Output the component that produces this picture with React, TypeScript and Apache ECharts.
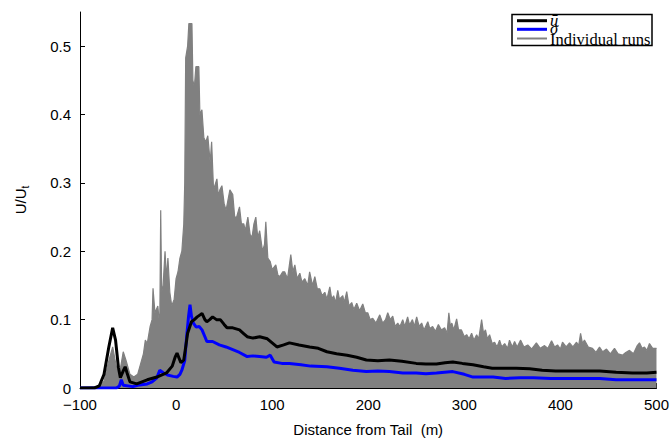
import React, { useEffect, useRef } from 'react';
import * as echarts from 'echarts';

// Mean (u-bar) curve: distance (m) and U/Ut
const meanX = [-100, -85, -80, -75, -70, -66, -63, -60, -58, -55, -53, -51, -48, -41, -30, -20, -10, -4, -1, 1, 5, 8, 10, 12, 16, 19, 22, 25, 27, 30, 32, 35, 38, 42, 46, 50, 53, 59, 66, 70, 74, 80, 87, 95, 105, 112, 118, 128, 139, 148, 157, 167, 178, 188, 198, 210, 222, 235, 250, 260, 271, 280, 288, 298, 309, 320, 329, 340, 354, 368, 381, 395, 410, 425, 441, 458, 475, 490, 500];
const meanY = [0, 0, 0.003, 0.02, 0.06, 0.088, 0.07, 0.03, 0.015, 0.025, 0.031, 0.022, 0.009, 0.006, 0.012, 0.016, 0.022, 0.032, 0.045, 0.051, 0.037, 0.041, 0.06, 0.08, 0.097, 0.1, 0.104, 0.107, 0.109, 0.1, 0.097, 0.1, 0.104, 0.1, 0.1, 0.093, 0.088, 0.088, 0.085, 0.08, 0.075, 0.073, 0.075, 0.072, 0.06, 0.063, 0.066, 0.063, 0.06, 0.058, 0.053, 0.05, 0.048, 0.045, 0.041, 0.04, 0.041, 0.039, 0.036, 0.035, 0.035, 0.037, 0.038, 0.036, 0.034, 0.031, 0.029, 0.029, 0.029, 0.028, 0.026, 0.025, 0.025, 0.025, 0.025, 0.023, 0.022, 0.022, 0.023];

// Standard deviation (sigma) curve
const sigmaX = [-100, -62, -59, -57, -55, -45, -40, -30, -25, -20, -17, -13, -9, -3, 1, 4, 6, 9, 11, 13, 14.5, 16, 18, 21, 24, 27, 30, 32, 38, 45, 52, 59, 66, 74, 80, 87, 94, 98, 102, 110, 118, 130, 140, 157, 170, 184, 198, 210, 222, 236, 250, 260, 271, 288, 300, 309, 322, 330, 343, 358, 372, 390, 410, 425, 441, 458, 475, 500];
const sigmaY = [0, 0, 0.003, 0.012, 0.004, 0.002, 0.004, 0.006, 0.009, 0.015, 0.026, 0.022, 0.019, 0.017, 0.016, 0.02, 0.026, 0.04, 0.075, 0.105, 0.122, 0.105, 0.095, 0.089, 0.09, 0.085, 0.075, 0.068, 0.068, 0.063, 0.06, 0.056, 0.052, 0.046, 0.047, 0.046, 0.045, 0.048, 0.038, 0.036, 0.036, 0.034, 0.032, 0.031, 0.029, 0.026, 0.024, 0.025, 0.024, 0.022, 0.022, 0.021, 0.022, 0.024, 0.02, 0.016, 0.016, 0.016, 0.014, 0.015, 0.015, 0.014, 0.014, 0.014, 0.014, 0.012, 0.012, 0.012];

// Upper envelope of the individual runs
const runsX = [-100, -80, -75, -70, -66, -62, -59, -55, -52, -48, -44, -40, -37, -34, -32, -30, -27, -25, -24, -22, -19, -17, -16, -15, -13.5, -11.5, -10, -8.5, -6.5, -4.5, -2, 0, 2, 4, 6, 8, 9, 10, 12, 13.3, 16.5, 17.5, 19, 20.6, 23.7, 24.8, 26.9, 28.9, 31, 33, 35.5, 37, 39, 42.5, 44, 45.6, 47.7, 50, 52, 54, 56, 59, 61, 63, 66, 68, 70.5, 72, 74.7, 77, 79, 81, 83, 85, 87, 90, 92, 93.4, 95.5, 98, 100, 103.8, 106, 108, 111, 113, 116, 119.4, 121.5, 123.6, 126, 128.8, 131, 134, 137, 139, 142, 144.4, 147, 149.6, 152, 154.8, 157, 160, 162, 164, 166, 168.3, 170, 173.5, 175, 177.6, 180, 182.8, 185, 188, 191, 194.3, 197, 199.5, 202, 204.7, 208, 212, 215, 218, 220.3, 223, 225.5, 228, 230.7, 233, 235.9, 238, 241, 243, 246, 248, 250.4, 253, 255.6, 258, 262, 264, 267, 270, 273, 276, 279.5, 282, 283.9, 285.5, 287, 289, 292, 294, 297, 300, 302.4, 305, 307.6, 310, 312.8, 315, 318, 320, 322, 324, 326.3, 329, 331.5, 334, 336.7, 339, 342, 345, 347, 350, 352.3, 355, 358.6, 362, 366, 370, 375, 379, 383.5, 387, 390.8, 394, 397, 400, 402.2, 406, 409.5, 413, 416.8, 419, 421, 423, 425, 429, 433.4, 437, 440.7, 444, 448, 452, 456.3, 460, 464.6, 468, 471.9, 476, 480, 482.3, 485, 487.5, 490, 492.7, 496, 500];
const runsY = [0.001, 0.002, 0.01, 0.04, 0.06, 0.03, 0.02, 0.053, 0.04, 0.02, 0.016, 0.02, 0.035, 0.05, 0.07, 0.065, 0.09, 0.1, 0.146, 0.11, 0.12, 0.09, 0.26, 0.14, 0.15, 0.2, 0.16, 0.19, 0.14, 0.12, 0.13, 0.16, 0.17, 0.19, 0.2, 0.24, 0.3, 0.483, 0.5, 0.533, 0.533, 0.45, 0.44, 0.47, 0.47, 0.4, 0.407, 0.366, 0.36, 0.369, 0.33, 0.36, 0.29, 0.306, 0.28, 0.29, 0.296, 0.27, 0.26, 0.275, 0.29, 0.283, 0.25, 0.25, 0.265, 0.24, 0.24, 0.23, 0.25, 0.225, 0.22, 0.24, 0.25, 0.22, 0.23, 0.2, 0.21, 0.243, 0.19, 0.185, 0.173, 0.18, 0.165, 0.163, 0.17, 0.17, 0.16, 0.195, 0.17, 0.18, 0.16, 0.168, 0.155, 0.16, 0.15, 0.17, 0.15, 0.163, 0.145, 0.145, 0.135, 0.14, 0.13, 0.148, 0.13, 0.135, 0.125, 0.143, 0.13, 0.135, 0.125, 0.141, 0.12, 0.125, 0.115, 0.124, 0.113, 0.123, 0.11, 0.11, 0.1, 0.102, 0.095, 0.107, 0.095, 0.1, 0.11, 0.1, 0.105, 0.09, 0.095, 0.09, 0.1, 0.09, 0.104, 0.092, 0.1, 0.09, 0.104, 0.09, 0.095, 0.085, 0.097, 0.087, 0.09, 0.083, 0.093, 0.085, 0.088, 0.08, 0.11, 0.09, 0.095, 0.085, 0.101, 0.085, 0.085, 0.075, 0.078, 0.072, 0.08, 0.07, 0.078, 0.072, 0.1, 0.08, 0.085, 0.072, 0.078, 0.065, 0.067, 0.06, 0.07, 0.06, 0.065, 0.058, 0.07, 0.06, 0.068, 0.06, 0.07, 0.06, 0.063, 0.057, 0.066, 0.058, 0.062, 0.058, 0.069, 0.06, 0.063, 0.057, 0.067, 0.06, 0.066, 0.06, 0.067, 0.062, 0.08, 0.065, 0.07, 0.06, 0.058, 0.052, 0.06, 0.053, 0.057, 0.05, 0.058, 0.05, 0.048, 0.052, 0.055, 0.05, 0.062, 0.066, 0.058, 0.06, 0.055, 0.065, 0.058, 0.058];

const yTicks = [0, 0.1, 0.2, 0.3, 0.4, 0.5];
const seriesNames = ['\u016B', '\u03C3', 'Individual runs'];
const seriesColors = ['#000000', '#0000ff', '#808080'];

const pairs = (xs: number[], ys: number[]) => xs.map((x, i) => [x, ys[i]]);

export default function App() {
  const ref = useRef<HTMLDivElement>(null);
  useEffect(() => {
    const chart = echarts.init(ref.current!, null, { renderer: 'svg' });
    const sans = 'Liberation Sans, Arial, Helvetica, sans-serif';
    const serif = 'Liberation Serif, Times New Roman, serif';

    // legend drawn as a boxed key (MATLAB style, tight rows)
    const lgLeft = 512, lgTop = 14.5, lgW = 140, lgH = 31;
    const rowY = [20.7, 29.3, 38.5];
    const legendEls: any[] = [
      { type: 'rect', shape: { x: lgLeft, y: lgTop, width: lgW, height: lgH }, style: { fill: '#fff', stroke: '#000', lineWidth: 1.5 }, z: 100 },
    ];
    seriesNames.forEach((n, i) => {
      legendEls.push({
        type: 'line',
        shape: { x1: lgLeft + 5, y1: rowY[i], x2: lgLeft + 35, y2: rowY[i] },
        style: { stroke: seriesColors[i], lineWidth: i === 2 ? 2 : 3 },
        z: 101,
      });
      legendEls.push({
        type: 'text',
        x: lgLeft + 38,
        y: rowY[i] + (i === 2 ? 0.5 : -0.5),
        style: {
          text: n,
          fill: '#000',
          font: (i < 2 ? 'italic ' : '') + '16.5px ' + serif,
          textVerticalAlign: 'middle',
          verticalAlign: 'middle',
        },
        z: 102,
      });
    });

    chart.setOption({
      animation: false,
      backgroundColor: '#fff',
      grid: { left: 80, right: 15, top: 12, bottom: 57, containLabel: false },
      xAxis: {
        type: 'value',
        min: -100,
        max: 500,
        interval: 100,
        axisLine: { onZero: false, lineStyle: { color: '#000', width: 1 } },
        axisTick: { inside: true, length: 5, lineStyle: { color: '#000' } },
        axisLabel: {
          color: '#000', fontSize: 15, fontFamily: sans, margin: 9,
          formatter: (v: number) => String(v).replace('-', '\u2212'),
        },
        splitLine: { show: false },
        name: 'Distance from Tail\u00A0 (m)',
        nameLocation: 'middle',
        nameGap: 34,
        nameTextStyle: { color: '#000', fontSize: 15, fontFamily: sans },
      },
      yAxis: {
        type: 'value',
        min: 0,
        max: 0.55,
        axisLine: { show: true, onZero: false, lineStyle: { color: '#000', width: 1 } },
        axisTick: { show: true, inside: true, length: 5, lineStyle: { color: '#000' }, customValues: yTicks },
        axisLabel: {
          color: '#000', fontSize: 15, fontFamily: sans, margin: 9, customValues: yTicks,
          formatter: (v: number) => (v === 0 ? '0' : String(+v.toFixed(1))),
        },
        splitLine: { show: false },
        name: '{a|U/U}{b|t}',
        nameLocation: 'middle',
        nameRotate: 90,
        nameGap: 50,
        nameTextStyle: {
          color: '#000',
          rich: {
            a: { fontSize: 15, fontFamily: sans, color: '#000', lineHeight: 20 },
            b: { fontSize: 10, fontFamily: sans, color: '#000', lineHeight: 10, verticalAlign: 'bottom' },
          },
        },
      },
      graphic: legendEls,
      series: [
        {
          name: seriesNames[2],
          type: 'line',
          data: pairs(runsX, runsY),
          symbol: 'none',
          color: seriesColors[2],
          lineStyle: { color: seriesColors[2], width: 1.2 },
          areaStyle: { color: seriesColors[2], opacity: 1 },
          z: 1,
        },
        {
          name: seriesNames[1],
          type: 'line',
          data: pairs(sigmaX, sigmaY),
          symbol: 'none',
          color: seriesColors[1],
          lineStyle: { color: seriesColors[1], width: 3 },
          z: 3,
        },
        {
          name: seriesNames[0],
          type: 'line',
          data: pairs(meanX, meanY),
          symbol: 'none',
          color: seriesColors[0],
          lineStyle: { color: seriesColors[0], width: 3 },
          z: 4,
        },
      ],
    });
    return () => chart.dispose();
  }, []);
  return (
    <div
      ref={ref}
      style={{ position: 'absolute', left: 0, top: 0, width: 672, height: 445, background: '#fff' }}
    />
  );
}
